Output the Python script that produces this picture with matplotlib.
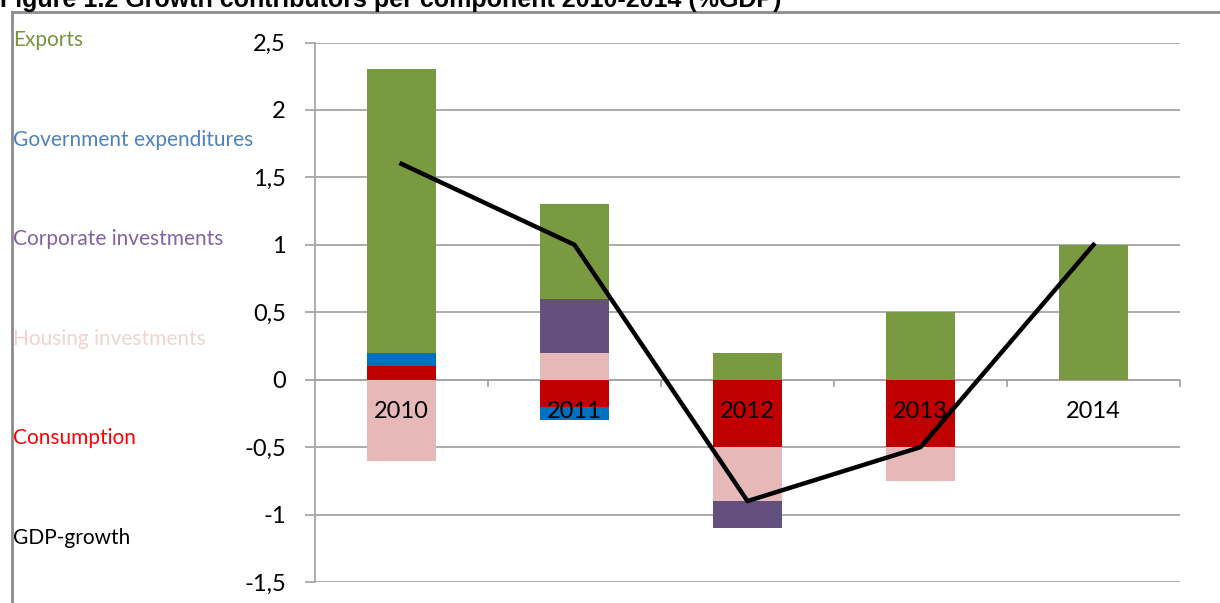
import numpy as np
import matplotlib
matplotlib.use('Agg')
import matplotlib.pyplot as plt
from matplotlib.lines import Line2D

# datos
years = ['2010', '2011', '2012', '2013', '2014']
consumption = [0.1, -0.2, -0.5, -0.5, 0.0]
housing = [-0.6, 0.2, -0.4, -0.25, 0.0]
corporate = [0.0, 0.4, -0.2, 0.0, 0.0]
government = [0.1, -0.1, 0.0, 0.0, 0.0]
exports = [2.1, 0.7, 0.2, 0.5, 1.0]
gdp_growth = [1.6, 1.0, -0.9, -0.5, 1.0]

yticks = [-1.5, -1, -0.5, 0, 0.5, 1, 1.5, 2, 2.5]
ytick_labels = ['-1,5', '-1', '-0,5', '0', '0,5', '1', '1,5', '2', '2,5']

title = 'Figure 1.2 Growth contributors per component 2010-2014 (%GDP)'
legend_names = ['Exports', 'Government expenditures', 'Corporate investments',
                'Housing investments', 'Consumption', 'GDP-growth']
legend_colors = ['#77933C', '#4F81BD', '#8064A2', '#F0D4D3', '#FF0000', '#000000']

# orden de apilado (igual que excel)
series = [consumption, housing, corporate, government, exports]
bar_colors = ['#C00000', '#E6B9B8', '#64507F', '#0070C0', '#7A9A42']

font = ['Lato', 'DejaVu Sans']

fig = plt.figure(figsize=(12.2, 6.03), dpi=100)
ax = fig.add_axes([315/1220, 1-582/603, 865/1220, 539.5/603])

x = np.arange(len(years))
pos_base = np.zeros(len(years))
neg_base = np.zeros(len(years))
for vals, col in zip(series, bar_colors):
    vals = np.asarray(vals)
    pos = np.where(vals > 0, vals, 0)
    neg = np.where(vals < 0, vals, 0)
    ax.bar(x, pos, 0.4, bottom=pos_base, color=col, zorder=2)
    ax.bar(x, neg, 0.4, bottom=neg_base, color=col, zorder=2)
    pos_base += pos
    neg_base += neg

ax.plot(x, gdp_growth, color='black', lw=3.2, zorder=4, solid_joinstyle='round')

for i, yr in enumerate(years):
    ax.annotate(yr, (i, 0), xytext=(0, -15), textcoords='offset points',
                ha='center', va='top', fontsize=17, family=font, zorder=3)

ax.set_xlim(-0.5, len(years)-0.5)
ax.set_ylim(-1.5, 2.5)
ax.set_yticks(yticks)
ax.set_yticklabels(ytick_labels, family=font, fontsize=17)
ax.yaxis.grid(True, color='#A6A6A6', lw=1.3, zorder=0)
ax.set_axisbelow(True)
ax.tick_params(axis='y', length=7, color='#A6A6A6', width=1.3, pad=14)
ax.set_xticks([])
for s in ['top', 'right', 'bottom']:
    ax.spines[s].set_visible(False)
ax.spines['left'].set_color('#A6A6A6')
ax.spines['left'].set_linewidth(1.3)

# eje cero con marcas entre categorias
ax.axhline(0, color='#A6A6A6', lw=1.3, zorder=1)
for b in np.arange(0.5, len(years), 1):
    ax.plot([b, b], [0, -0.05], color='#A6A6A6', lw=1.3, zorder=1, clip_on=False)

# leyenda manual a la izquierda
for k, (name, col) in enumerate(zip(legend_names, legend_colors)):
    fig.text(13/1220, 1-(40+99.5*k)/603, name, color=col, fontsize=15,
             family=font, va='center', ha='left')

# marco y titulo recortado
fig.add_artist(Line2D([12/1220, 12/1220], [0, 1-12/603], color='#8C8C8C', lw=2))
fig.add_artist(Line2D([12/1220, 1], [1-12/603, 1-12/603], color='#8C8C8C', lw=2))
fig.text(0, 1-7/603, title, fontsize=18, fontweight='bold',
         family='Liberation Sans', va='baseline', ha='left')

fig.savefig('out.png', dpi=100)
